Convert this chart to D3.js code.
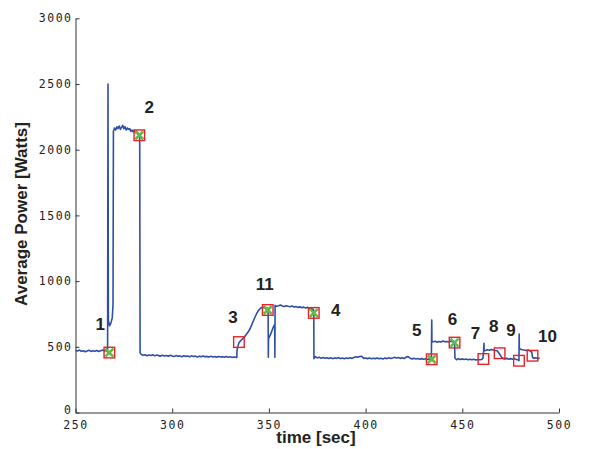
<!DOCTYPE html>
<html>
<head>
<meta charset="utf-8">
<script src="https://cdn.jsdelivr.net/npm/d3@7"></script>
<style>
  body { margin: 0; background: #fff; }
  #chart text { fill: #222; }
  .tick text { font-family: "DejaVu Sans Mono", monospace; font-size: 11.5px; letter-spacing: 1.5px; }
  .title, .num { font-family: "Liberation Sans", Arial, sans-serif; font-weight: bold; font-size: 17px; }
</style>
</head>
<body>
<div id="chart"></div>
<script>
// Samples of the power trace (time in seconds, power in watts)
let timeSec = [
  250, 251, 252, 253, 254, 255, 256, 257, 258, 259, 260, 261, 262, 263, 264, 265, 266, 266.6,
  266.8, 267.0, 267.6, 268.3, 269.0, 269.4,
  269.6, 270.2, 270.8, 271.4, 272.0, 272.6, 273.2, 273.8, 274.4, 275.0, 275.6, 276.2, 276.8,
  277.4, 278.0, 278.6, 279.2, 279.8, 280.4, 281.0, 281.6, 282.2, 282.8, 283.2,
  283.4, 284, 285, 286, 287, 288, 289, 290, 291, 292, 293, 294, 295, 296, 297, 298, 299, 300,
  301, 302, 303, 304, 305, 306, 307, 308, 309, 310, 311, 312, 313, 314, 315, 316, 317, 318,
  319, 320, 321, 322, 323, 324, 325, 326, 327, 328, 329, 330, 331, 332, 333, 333.4,
  333.5, 334, 334.5, 335.5, 336.5, 337.5, 338.5, 339.5, 340.5, 341.5, 342.5, 343.5, 344.5,
  345.5, 346.5, 347.5, 348.5, 349.3, 349.6,
  349.7, 349.8, 351, 352, 353.0, 353.1, 353.2,
  354, 355, 356, 357, 358, 359, 360, 361, 362, 363, 364, 365, 366, 367, 368, 369, 370, 371,
  372, 373, 373.2,
  373.3, 374, 375, 376, 377, 378, 379, 380, 381, 382, 383, 384, 385, 386, 387, 388, 389, 390,
  391, 392, 393, 394, 395, 396, 397, 398, 399, 400, 401, 402, 403, 404, 405, 406, 407, 408,
  409, 410, 411, 412, 413, 414, 415, 416, 417, 418, 419, 420, 421, 422, 423, 424, 425, 426,
  427, 428, 429, 430, 431, 432, 433, 434.0,
  434.2, 434.3, 435, 436, 437, 438, 439, 440, 441, 442, 443, 444, 445, 446.0,
  446.2, 447, 448, 449, 450, 451, 452, 453, 454, 455, 456, 457, 458, 459, 460, 460.6,
  461.0, 461.2, 461.3, 462, 463, 464, 465, 466, 467, 468, 468.8, 469.5, 470.3,
  471, 472, 473, 474, 475, 476, 477, 478, 479, 479.3,
  479.4, 479.5, 480, 481, 482, 483, 484, 485, 485.9,
  486.3, 487, 488, 489, 490
];
let powerW = [
  472, 468, 475, 466, 470, 462, 468, 474, 465, 470, 466, 472, 464, 470, 476, 468, 472, 460,
  2500, 700, 660, 680, 720, 820,
  2140, 2165, 2150, 2175, 2160, 2180, 2155, 2170, 2185, 2160, 2175, 2150, 2165,
  2155, 2160, 2140, 2150, 2135, 2145, 2130, 2140, 2125, 2120, 2110,
  455, 442, 436, 440, 432, 438, 434, 440, 431, 437, 433, 429, 436, 430, 434, 428, 435, 430,
  426, 433, 428, 431, 425, 432, 427, 430, 424, 431, 426, 429, 423, 428, 425, 430, 424, 427,
  422, 428, 423, 426, 420, 427, 422, 425, 420, 426, 421, 424, 419, 423, 420, 418,
  470, 505, 530, 548, 562, 578, 598, 618, 645, 680, 715, 748, 775,
  792, 800, 798, 790, 795, 785,
  420, 560, 600, 640, 670, 420, 815,
  808, 812, 818, 810, 806, 812, 808, 805, 810, 803, 806, 800, 804, 798, 802, 796, 800, 794,
  790, 785, 765,
  410, 425, 416, 420, 413, 418, 412, 417, 411, 416, 410, 415, 412, 417, 411, 414, 409, 415,
  411, 416, 412, 418, 424, 420, 426, 428, 412, 415, 410, 414, 409, 413, 410, 415, 409, 413,
  408, 414, 410, 416, 411, 415, 420, 414, 418, 412, 416, 411, 422, 425, 413, 408, 412, 407,
  411, 406, 410, 405, 409, 404, 408, 404,
  704, 540, 538, 542, 535, 540, 536, 544, 538, 540, 536, 542, 538, 532,
  415, 402, 409, 404, 408, 403, 407, 402, 406, 401, 405, 400, 404, 401, 403, 412,
  460, 527, 470, 472, 478, 474, 480, 476, 472, 470, 455, 440, 420,
  412, 408, 412, 406, 410, 405, 410, 404, 400, 395,
  597, 490, 482, 478, 475, 472, 476, 470, 460,
  420, 412, 416, 410, 414
];

// Marked events
let markTime = [267.5, 283.0, 334.5, 373.2, 434.2, 446.0, 460.9, 469.3, 479.3, 486.3, 349.4];
let markPower = [456, 2110, 536, 758, 405, 532, 407, 451, 394, 432, 780];
let markLabel = ["1", "2", "3", "4", "5", "6", "7", "8", "9", "10", "11"];
let markCross = [true, true, false, true, true, true, false, false, false, false, true];

// Axis ticks
let xTicks = [250, 300, 350, 400, 450, 500];
let yTicks = [0, 500, 1000, 1500, 2000, 2500, 3000];

// Label placement relative to each marker (pixels)
let labelDx = [-9, 10, -6, 22, -15, -2, -8, -6, -8, 15, -3];
let labelDy = [-23, -22, -19, 3, -23, -18, -20, -21, -25, -14, -20];

let w = 597;
let h = 449;

let x = d3.scaleLinear().domain([250, 500]).range([75.5, 559]);
let y = d3.scaleLinear().domain([0, 3000]).range([412.5, 18.3]);

let svg = d3.select("#chart")
  .append("svg")
  .attr("width", w)
  .attr("height", h);

// Axes
svg.append("g")
  .attr("transform", "translate(0," + y(0) + ")")
  .call(d3.axisBottom(x).tickValues(xTicks).tickFormat(d3.format("d"))
    .tickSizeInner(-4).tickSizeOuter(0).tickPadding(8));

let yAxis = svg.append("g")
  .attr("transform", "translate(" + x(250) + ",0)")
  .call(d3.axisLeft(y).tickValues(yTicks).tickFormat(d3.format("d"))
    .tickSizeInner(-4).tickSizeOuter(0).tickPadding(3));

// the zero label sits a little high so it clears the 250 below it
yAxis.selectAll(".tick text").filter(d => d === 0).attr("dy", "0.1em");

svg.selectAll(".domain, .tick line").attr("stroke", "#333");

// Power trace
let trace = timeSec.map((t, i) => [t, powerW[i]]);
svg.append("path")
  .datum(trace)
  .attr("fill", "none")
  .attr("stroke", "#2f4fa5")
  .attr("stroke-width", 1.6)
  .attr("stroke-linejoin", "round")
  .attr("d", d3.line().x(d => x(d[0])).y(d => y(d[1])));

// Markers
let marks = markTime.map((t, i) => ({t: t, p: markPower[i], label: markLabel[i], cross: markCross[i], dx: labelDx[i], dy: labelDy[i]}));
let mg = svg.selectAll("g.mark")
  .data(marks)
  .join("g")
  .attr("class", "mark")
  .attr("transform", d => "translate(" + x(d.t) + "," + y(d.p) + ")");

mg.filter(d => d.cross)
  .append("path")
  .attr("d", "M-4,-4L4,4M-4,4L4,-4")
  .attr("stroke", "#62bb46")
  .attr("stroke-width", 2.6)
  .attr("fill", "none");

mg.append("rect")
  .attr("x", -5.3)
  .attr("y", -5.3)
  .attr("width", 10.6)
  .attr("height", 10.6)
  .attr("fill", "none")
  .attr("stroke", "#e62228")
  .attr("stroke-width", 1.4);

mg.append("text")
  .attr("class", "num")
  .attr("x", d => d.dx)
  .attr("y", d => d.dy)
  .attr("text-anchor", "middle")
  .text(d => d.label);

// Axis titles
svg.append("text")
  .attr("class", "title")
  .attr("x", 316)
  .attr("y", 443)
  .attr("text-anchor", "middle")
  .text("time [sec]");

svg.append("text")
  .attr("class", "title")
  .attr("transform", "translate(26.5,214) rotate(-90)")
  .attr("text-anchor", "middle")
  .text("Average Power [Watts]");
</script>
</body>
</html>
